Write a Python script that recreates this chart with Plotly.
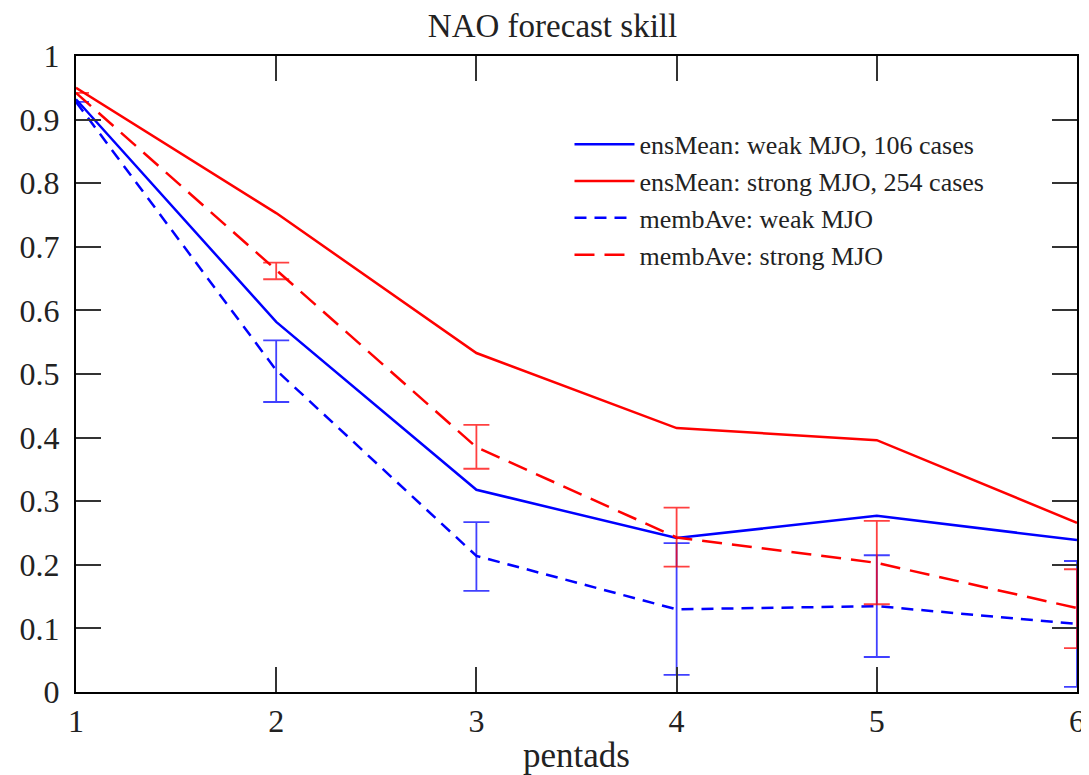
import plotly.graph_objects as go

pentads = [1, 2, 3, 4, 5, 6]
ens_weak = [0.932, 0.582, 0.318, 0.242, 0.277, 0.239]
ens_strong = [0.950, 0.753, 0.533, 0.415, 0.396, 0.266]
memb_weak = [0.928, 0.506, 0.214, 0.130, 0.135, 0.107]
memb_strong = [0.942, 0.664, 0.385, 0.243, 0.203, 0.132]
memb_weak_hi = [0.928, 0.553, 0.267, 0.234, 0.215, 0.206]
memb_weak_lo = [0.928, 0.456, 0.159, 0.027, 0.055, 0.008]
memb_strong_hi = [0.942, 0.675, 0.420, 0.290, 0.269, 0.193]
memb_strong_lo = [0.942, 0.649, 0.351, 0.197, 0.138, 0.069]
y_ticks = [0, 0.1, 0.2, 0.3, 0.4, 0.5, 0.6, 0.7, 0.8, 0.9, 1]
y_tick_text = ["0", "0.1", "0.2", "0.3", "0.4", "0.5", "0.6", "0.7", "0.8", "0.9", "1"]

BLUE = "#0000ff"
RED = "#ff0000"
FONT = "Liberation Serif"
TXT = "#222222"

fig = go.Figure()
fig.add_trace(go.Scatter(x=pentads, y=ens_weak, mode="lines", name="ensMean: weak MJO, 106 cases",
                         line=dict(color=BLUE, width=2.5)))
fig.add_trace(go.Scatter(x=pentads, y=ens_strong, mode="lines", name="ensMean: strong MJO, 254 cases",
                         line=dict(color=RED, width=2.5)))
fig.add_trace(go.Scatter(
    x=pentads, y=memb_weak, mode="lines", name="membAve: weak MJO",
    line=dict(color=BLUE, width=2.5, dash="12px,8px"),
    error_y=dict(type="data", symmetric=False,
                 array=[h - v for h, v in zip(memb_weak_hi, memb_weak)],
                 arrayminus=[v - l for v, l in zip(memb_weak, memb_weak_lo)],
                 color="rgba(0,0,255,0.75)", thickness=1.8, width=13)))
fig.add_trace(go.Scatter(
    x=pentads, y=memb_strong, mode="lines", name="membAve: strong MJO",
    line=dict(color=RED, width=2.5, dash="20px,10px"),
    error_y=dict(type="data", symmetric=False,
                 array=[h - v for h, v in zip(memb_strong_hi, memb_strong)],
                 arrayminus=[v - l for v, l in zip(memb_strong, memb_strong_lo)],
                 color="rgba(255,0,0,0.75)", thickness=1.8, width=13)))

axis_common = dict(showline=True, linecolor="black", linewidth=2, mirror="ticks",
                   ticks="inside", ticklen=25, tickwidth=2, tickcolor="#333333",
                   showgrid=False, zeroline=False,
                   tickfont=dict(family=FONT, size=32, color=TXT))

fig.update_layout(
    width=1089, height=775,
    paper_bgcolor="white", plot_bgcolor="white",
    margin=dict(l=67, r=17, t=48, b=91),
    title=dict(text="NAO forecast skill", x=0.5, xanchor="center", y=0.977, yanchor="middle",
               font=dict(family=FONT, size=33, color=TXT)),
    xaxis=dict(range=[1, 6], tickvals=pentads, ticktext=[str(p) for p in pentads],
               ticklabelstandoff=0,
               title=dict(text="pentads", font=dict(family=FONT, size=35, color=TXT),
                          standoff=4),
               **axis_common),
    yaxis=dict(range=[0, 1], tickvals=y_ticks, ticktext=y_tick_text, ticklabelstandoff=8,
               **axis_common),
    showlegend=True,
    legend=dict(x=0.493, y=0.898, xanchor="left", yanchor="top", bgcolor="rgba(0,0,0,0)",
                font=dict(family=FONT, size=26, color=TXT),
                tracegroupgap=0, itemwidth=60),
)

fig.write_html("out.html")
